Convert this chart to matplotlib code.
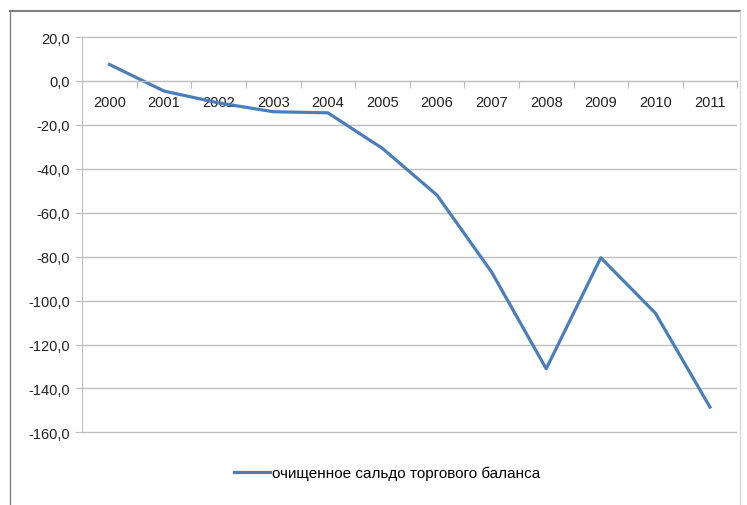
import numpy as np
import matplotlib.pyplot as plt
from matplotlib.lines import Line2D

years = ["2000", "2001", "2002", "2003", "2004", "2005",
         "2006", "2007", "2008", "2009", "2010", "2011"]
saldo = [7.5, -4.6, -10.0, -14.0, -14.5, -30.7,
         -52.0, -87.0, -131.0, -80.5, -105.7, -148.5]
yticks = [20, 0, -20, -40, -60, -80, -100, -120, -140, -160]

plt.rcParams['font.family'] = ['Liberation Sans', 'DejaVu Sans']

fig = plt.figure(figsize=(7.47, 5.06), dpi=100)
ax = fig.add_axes([0.11, 0.14, 0.877, 0.787])

x = np.arange(len(years))
ax.plot(x, saldo, color="#4a7ebb", lw=2.3, label="очищенное сальдо торгового баланса")

ax.set_xlim(-0.5, len(years) - 0.5)
ax.set_ylim(-160.8, 20.5)
ax.set_yticks(yticks)
ax.set_yticklabels([("%.1f" % v).replace(".", ",") for v in yticks], fontsize=10.5, color="#222222")
ax.grid(axis="y", color="#bfbfbf", lw=1)
ax.tick_params(axis="y", length=5, color="#bfbfbf", pad=4)

# category axis on the zero line
ax.spines["bottom"].set_position(("data", 0))
ax.spines["bottom"].set_color("#bfbfbf")
ax.spines["left"].set_color("#bfbfbf")
ax.spines["left"].set_bounds(-160, 20)
ax.spines["top"].set_visible(False)
ax.spines["right"].set_visible(False)
ax.set_xticks(np.arange(-0.5, len(years)), minor=False)
ax.set_xticklabels([])
ax.tick_params(axis="x", which="major", length=5, color="#bfbfbf")
ax.set_xticks(x, minor=True)
ax.set_xticklabels(years, minor=True, fontsize=10.5, color="#222222")
ax.tick_params(axis="x", which="minor", length=0, pad=10)

ax.legend(loc="center", bbox_to_anchor=(0.518, 0.063), bbox_transform=fig.transFigure,
          frameon=False, fontsize=11, handlelength=2.4, handletextpad=0.1)

# outer frame
fig.add_artist(Line2D([10/747, 740/747], [1 - 12/506] * 2, color="#7f7f7f", lw=1.5, transform=fig.transFigure))
fig.add_artist(Line2D([10/747] * 2, [0, 1 - 12/506], color="#7f7f7f", lw=1, transform=fig.transFigure))
fig.add_artist(Line2D([740/747] * 2, [0, 1 - 12/506], color="#d9d9d9", lw=1, transform=fig.transFigure))

fig.savefig("out.png", dpi=100)
